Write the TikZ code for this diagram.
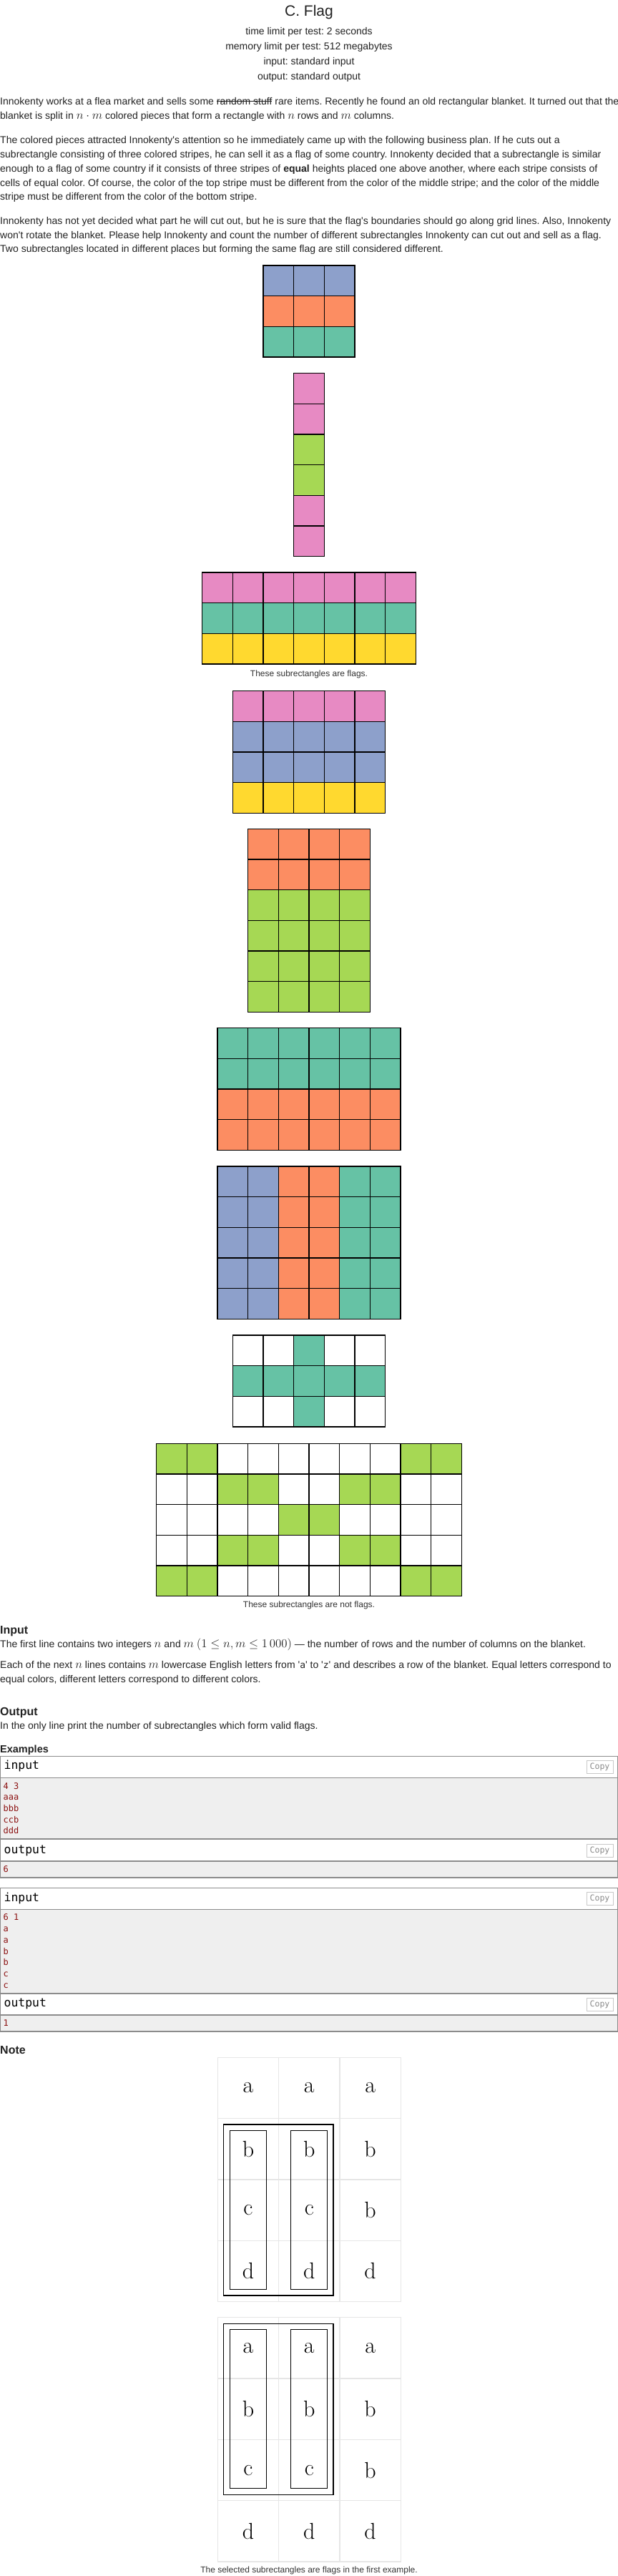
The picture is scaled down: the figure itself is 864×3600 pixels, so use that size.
\documentclass[tikz,border=0pt]{standalone}
\usepackage{fix-cm}
\usepackage[no-math]{fontspec}
\newfontfamily\arial{Liberation Sans}
\newfontfamily\mono{DejaVu Sans Mono}
\definecolor{cb}{HTML}{8DA0CB}
\definecolor{co}{HTML}{FC8D62}
\definecolor{ct}{HTML}{66C2A5}
\definecolor{cp}{HTML}{E78AC3}
\definecolor{cg}{HTML}{A6D854}
\definecolor{cy}{HTML}{FFD92F}
\definecolor{cw}{HTML}{FFFFFF}
\definecolor{txtc}{HTML}{222222}
\definecolor{capc}{HTML}{333333}
\definecolor{boxc}{HTML}{8C8C8C}
\definecolor{graybg}{HTML}{EFEFEF}
\definecolor{notegrid}{HTML}{E6E6E6}
\definecolor{inred}{HTML}{8B1010}
\definecolor{copyc}{HTML}{C8C8C8}
\definecolor{copyt}{HTML}{8A8A8A}
\frenchspacing
\newsavebox{\strkbox}
\newcommand{\strk}[1]{\sbox{\strkbox}{#1}\rlap{\rule[0.3em]{\wd\strkbox}{0.075em}}\usebox{\strkbox}}
\newcommand{\mth}[1]{{\fontsize{16.8}{17}\selectfont$#1$}}
\newcommand{\cellgrid}[3]{%
  \foreach \rw [count=\ri from 0] in {#3} {
    \foreach \cl [count=\ci from 0] in \rw {
      \filldraw[fill=\cl, draw=black, line width=1.3pt] ({#1+\ci*42.667},{#2+\ri*42.667}) rectangle ++(42.667,42.667);
    }
  }%
}
\newcommand{\notegridx}[3]{%
  \foreach \rw [count=\ri from 0] in {{a,a,a},{b,b,b},{c,c,b},{d,d,d}} {
    \foreach \lt [count=\ci from 0] in \rw {
      \draw[draw=notegrid, line width=1.2pt] ({#2+\ci*85.333},{#3+\ri*85.333}) rectangle ++(85.333,85.333);
      \node[noteletter] (#1-\ri-\ci) at ({#2+\ci*85.333+42.667},{#3+\ri*85.333+42.667}) {\lt};
    }
  }%
}
\begin{document}
\begin{tikzpicture}[x=1pt,y=-1pt,
  body/.style={anchor=base west, inner sep=0pt, text=txtc, font=\arial\fontsize{14}{17}\selectfont},
  ctr/.style={anchor=base, inner sep=0pt, text=txtc, font=\arial\fontsize{14}{17}\selectfont},
  ttl/.style={anchor=base, inner sep=0pt, text=txtc, font=\arial\fontsize{21}{25}\selectfont},
  captxt/.style={anchor=base, inner sep=0pt, text=capc, font=\arial\fontsize{12}{14}\selectfont},
  head/.style={anchor=base west, inner sep=0pt, text=txtc, font=\arial\bfseries\fontsize{16}{19}\selectfont},
  subhead/.style={anchor=base west, inner sep=0pt, text=txtc, font=\arial\bfseries\fontsize{14.5}{17}\selectfont},
  boxhead/.style={anchor=base west, inner sep=0pt, text=black, font=\mono\fontsize{16.4}{19}\selectfont},
  boxline/.style={anchor=base west, inner sep=0pt, text=inred, font=\mono\fontsize{12}{14}\selectfont},
  copyb/.style={draw=copyc, line width=1pt, minimum width=37pt, minimum height=18pt, inner sep=0pt, text=copyt, font=\mono\fontsize{11.5}{13}\selectfont},
  exbox/.style={draw=boxc, line width=1.1pt},
  noteletter/.style={inner sep=0pt, text=black, font=\rmfamily\fontsize{32}{38}\selectfont},
  selbox/.style={draw=black, line width=1.3pt}
]
\useasboundingbox (0,0) rectangle (864,3600);
\fill[white] (0,0) rectangle (864,3600);

% header
\node[ttl] (title) at (432,22.5) {C. Flag};
\node[ctr] (h1) at (432,48.8) {time limit per test: 2 seconds};
\node[ctr] (h2) at (432,69.5) {memory limit per test: 512 megabytes};
\node[ctr] (h3) at (432,90.5) {input: standard input};
\node[ctr] (h4) at (432,111.2) {output: standard output};

% paragraph 1
\node[body] (p1a) at (0,146) {Innokenty works at a flea market and sells some \strk{random stuff} rare items. Recently he found an old rectangular blanket. It turned out that the};
\node[body] (p1b) at (0,166.8) {blanket is split in \mth{n \cdot m} colored pieces that form a rectangle with \mth{n} rows and \mth{m} columns.};
% paragraph 2
\node[body] (p2a) at (0,200.3) {The colored pieces attracted Innokenty's attention so he immediately came up with the following business plan. If he cuts out a};
\node[body] (p2b) at (0,220.3) {subrectangle consisting of three colored stripes, he can sell it as a flag of some country. Innokenty decided that a subrectangle is similar};
\node[body] (p2c) at (0,240.2) {enough to a flag of some country if it consists of three stripes of \textbf{equal} heights placed one above another, where each stripe consists of};
\node[body] (p2d) at (0,260.2) {cells of equal color. Of course, the color of the top stripe must be different from the color of the middle stripe; and the color of the middle};
\node[body] (p2e) at (0,279.8) {stripe must be different from the color of the bottom stripe.};
% paragraph 3
\node[body] (p3a) at (0,313.6) {Innokenty has not yet decided what part he will cut out, but he is sure that the flag's boundaries should go along grid lines. Also, Innokenty};
\node[body] (p3b) at (0,333.4) {won't rotate the blanket. Please help Innokenty and count the number of different subrectangles Innokenty can cut out and sell as a flag.};
\node[body] (p3c) at (0,352.8) {Two subrectangles located in different places but forming the same flag are still considered different.};

% grids
\cellgrid{368}{371}{{cb,cb,cb},{co,co,co},{ct,ct,ct}}
\cellgrid{410.67}{521.7}{{cp},{cp},{cg},{cg},{cp},{cp}}
\cellgrid{282.67}{800}{{cp,cp,cp,cp,cp,cp,cp},{ct,ct,ct,ct,ct,ct,ct},{cy,cy,cy,cy,cy,cy,cy}}
\node[captxt] (cap1) at (432,945.2) {These subrectangles are flags.};
\cellgrid{325.33}{965.7}{{cp,cp,cp,cp,cp},{cb,cb,cb,cb,cb},{cb,cb,cb,cb,cb},{cy,cy,cy,cy,cy}}
\cellgrid{346.67}{1158.3}{{co,co,co,co},{co,co,co,co},{cg,cg,cg,cg},{cg,cg,cg,cg},{cg,cg,cg,cg},{cg,cg,cg,cg}}
\cellgrid{304}{1436.7}{{ct,ct,ct,ct,ct,ct},{ct,ct,ct,ct,ct,ct},{co,co,co,co,co,co},{co,co,co,co,co,co}}
\cellgrid{304}{1630}{{cb,cb,co,co,ct,ct},{cb,cb,co,co,ct,ct},{cb,cb,co,co,ct,ct},{cb,cb,co,co,ct,ct},{cb,cb,co,co,ct,ct}}
\cellgrid{325.33}{1866}{{cw,cw,ct,cw,cw},{ct,ct,ct,ct,ct},{cw,cw,ct,cw,cw}}
\cellgrid{218.67}{2017.3}{{cg,cg,cw,cw,cw,cw,cw,cw,cg,cg},{cw,cw,cg,cg,cw,cw,cg,cg,cw,cw},{cw,cw,cw,cw,cg,cg,cw,cw,cw,cw},{cw,cw,cg,cg,cw,cw,cg,cg,cw,cw},{cg,cg,cw,cw,cw,cw,cw,cw,cg,cg}}
\node[captxt] (cap2) at (432,2246.5) {These subrectangles are not flags.};

% input / output
\node[head] (inh) at (0,2283.4) {Input};
\node[body] (in1) at (0,2302) {The first line contains two integers \mth{n} and \mth{m} \mth{(1 \le n, m \le 1\,000)} — the number of rows and the number of columns on the blanket.};
\node[body] (in2) at (0,2331) {Each of the next \mth{n} lines contains \mth{m} lowercase English letters from \textquotesingle{\mono\fontsize{13}{15}\selectfont a}\textquotesingle{} to \textquotesingle{\mono\fontsize{13}{15}\selectfont z}\textquotesingle{} and describes a row of the blanket. Equal letters correspond to};
\node[body] (in3) at (0,2351) {equal colors, different letters correspond to different colors.};
\node[head] (outh) at (0,2397.4) {Output};
\node[body] (out1) at (0,2416) {In the only line print the number of subrectangles which form valid flags.};

% examples
\node[subhead] (exh) at (0,2449.2) {Examples};
% box 1
\fill[graybg] (0.5,2484.3) rectangle (863.5,2570);
\fill[graybg] (0.5,2601) rectangle (863.5,2624);
\draw[exbox] (0.5,2454.3) rectangle (863.5,2624);
\draw[exbox] (0.5,2484.3) -- (863.5,2484.3);
\draw[exbox] (0.5,2570) -- (863.5,2570);
\draw[exbox] (0.5,2601) -- (863.5,2601);
\node[boxhead] (i1h) at (5.5,2472.8) {input};
\node[copyb] (c1) at (838.5,2469.5) {Copy};
\node[boxline] (i1l1) at (4.4,2500) {4 3};
\node[boxline] (i1l2) at (4.4,2515.7) {aaa};
\node[boxline] (i1l3) at (4.4,2531.3) {bbb};
\node[boxline] (i1l4) at (4.4,2547) {ccb};
\node[boxline] (i1l5) at (4.4,2562.7) {ddd};
\node[boxhead] (o1h) at (5.5,2590) {output};
\node[copyb] (c2) at (838.5,2586.5) {Copy};
\node[boxline] (o1l1) at (4.4,2616) {6};
% box 2
\fill[graybg] (0.5,2668.3) rectangle (863.5,2786);
\fill[graybg] (0.5,2816) rectangle (863.5,2839);
\draw[exbox] (0.5,2638.3) rectangle (863.5,2839);
\draw[exbox] (0.5,2668.3) -- (863.5,2668.3);
\draw[exbox] (0.5,2786) -- (863.5,2786);
\draw[exbox] (0.5,2816) -- (863.5,2816);
\node[boxhead] (i2h) at (5.5,2657.8) {input};
\node[copyb] (c3) at (838.5,2653.5) {Copy};
\node[boxline] (i2l1) at (4.4,2683.5) {6 1};
\node[boxline] (i2l2) at (4.4,2699.3) {a};
\node[boxline] (i2l3) at (4.4,2715) {a};
\node[boxline] (i2l4) at (4.4,2731) {b};
\node[boxline] (i2l5) at (4.4,2746.7) {b};
\node[boxline] (i2l6) at (4.4,2762.3) {c};
\node[boxline] (i2l7) at (4.4,2778) {c};
\node[boxhead] (o2h) at (5.5,2804.5) {output};
\node[copyb] (c4) at (838.5,2801.5) {Copy};
\node[boxline] (o2l1) at (4.4,2831) {1};

% note
\node[head] (noteh) at (0,2870.7) {Note};
\notegridx{na}{304.3}{2875.3}
\draw[selbox] (312.8,2969.1) rectangle (466.1,3208.1);
\draw[selbox] (321.3,2977.6) rectangle (372.3,3199.6);
\draw[selbox] (406.6,2977.6) rectangle (457.6,3199.6);
\notegridx{nb}{304.3}{3238.7}
\draw[selbox] (312.8,3247.2) rectangle (466.1,3486.2);
\draw[selbox] (321.3,3255.7) rectangle (372.3,3477.7);
\draw[selbox] (406.6,3255.7) rectangle (457.6,3477.7);
\node[captxt] (cap3) at (432,3595.2) {The selected subrectangles are flags in the first example.};
\end{tikzpicture}
\end{document}
